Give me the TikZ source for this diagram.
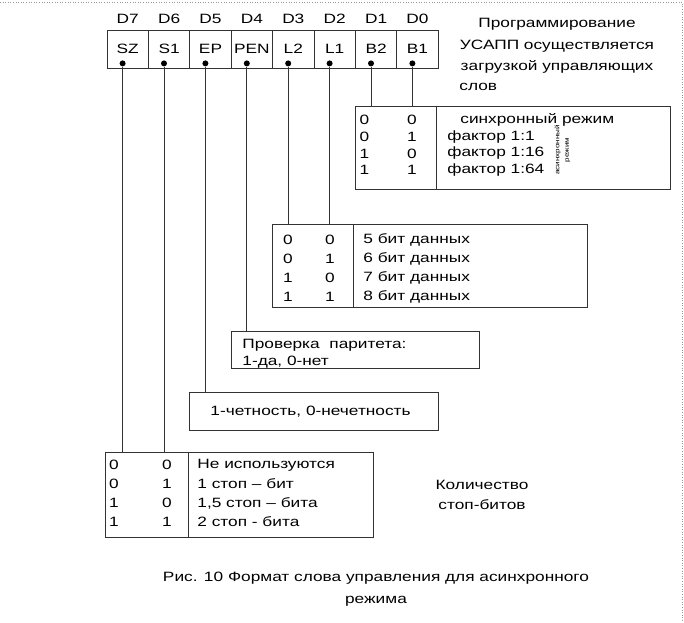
\documentclass[tikz,border=0pt]{standalone}
\usepackage{fontspec}
\setmainfont{Liberation Sans}[FakeStretch=1.28]
\begin{document}
\begin{tikzpicture}[x=1pt,y=-1pt,line width=0.8pt,draw=black!80,
	font=\fontsize{13.5}{15}\selectfont,
	regcell/.style={draw,minimum width=41.4pt,minimum height=38pt,inner sep=0pt},
	tbox/.style={draw,inner sep=0pt},
	txt/.style={inner sep=0pt,anchor=west},
	bit/.style={inner sep=0pt},
	pin/.style={circle,fill=black,inner sep=0pt,minimum size=6pt}]
	\useasboundingbox (0,0) rectangle (684,622);
	\draw[black!40,dotted,line width=0.6pt] (0,2) -- (682,2) -- (682,622);
	% control word register
	\foreach \f/\d [count=\i from 0] in {SZ/D7,S1/D6,EP/D5,PEN/D4,L2/D3,L1/D2,B2/D1,B1/D0}{
		\node (\f) at ({127.7+41.4*\i},49)	[regcell]	{\f};
		\node (lbl\f) at ({127.7+41.4*\i},19)	{\d};
		\node (p\f) at ([shift={(16,-5)}]\f.south west)	[pin]	{};
	}
	\node (prog) at (557,46)	[align=center,font=\fontsize{13.5}{21.3}\selectfont]	{Программирование\\УСАПП осуществляется\\загрузкой управляющих};
	\node (slov) at (459,87)	[txt]	{слов};
	% B2 B1
	\node (btab) at (512.5,147.5)	[tbox,minimum width=315pt,minimum height=83pt]	{};
	\draw ([xshift=82pt]btab.north west) -- ([xshift=82pt]btab.south west);
	\foreach \a/\b/\t [count=\r from 0] in {0/0/{\hspace{13pt}синхронный режим},0/1/{фактор 1:1},1/0/{фактор 1:16},1/1/{фактор 1:64}}{
		\node (bA\r) at (364.5,{120+16.7*\r})	[bit]	{\a};
		\node (bB\r) at (412,{120+16.7*\r})	[bit]	{\b};
		\node (bT\r) at (447,{120+16.7*\r})	[txt]	{\t};
	}
	\node (async) at (562.5,150)	[rotate=90,align=center,font=\fontsize{6.3}{9.5}\selectfont]	{асинхронный\\режим};
	% L2 L1
	\node (dtab) at (429.5,265.5)	[tbox,minimum width=315pt,minimum height=83pt]	{};
	\draw ([xshift=82pt]dtab.north west) -- ([xshift=82pt]dtab.south west);
	\foreach \a/\b/\n [count=\r from 0] in {0/0/5,0/1/6,1/0/7,1/1/8}{
		\node (dA\r) at (288,{240+19*\r})	[bit]	{\a};
		\node (dB\r) at (330,{240+19*\r})	[bit]	{\b};
		\node (dT\r) at (363,{240+19*\r})	[txt]	{\n{} бит данных};
	}
	% PEN
	\node (parbox) at (355,349.5)	[tbox,minimum width=248pt,minimum height=37pt]	{};
	\node (par1) at (242,345)	[txt]	{Проверка\ \ паритета:};
	\node (par2) at (242,362)	[txt]	{1-да, 0-нет};
	% EP
	\node (epbox) at (313.5,411)	[tbox,minimum width=249pt,minimum height=38pt]	{};
	\node (eptxt) at (210,412)	[txt]	{1-четность, 0-нечетность};
	% SZ S1
	\node (stab) at (239,494.5)	[tbox,minimum width=268pt,minimum height=85pt]	{};
	\draw ([xshift=84pt]stab.north west) -- ([xshift=84pt]stab.south west);
	\foreach \a/\b/\t [count=\r from 0] in {0/0/{Не используются},0/1/{1 стоп – бит},1/0/{1,5 стоп – бита},1/1/{2 стоп - бита}}{
		\node (sA\r) at (114,{465+19*\r})	[bit]	{\a};
		\node (sB\r) at (167,{465+19*\r})	[bit]	{\b};
		\node (sT\r) at (197,{465+19*\r})	[txt]	{\t};
	}
	\node (stlbl) at (482,495)	[align=center,font=\fontsize{13.5}{20}\selectfont]	{Количество\\стоп-битов};
	\node (cap) at (376,589)	[align=center,font=\fontsize{13.5}{22}\selectfont]	{Рис. 10 Формат слова управления для асинхронного\\режима};
	% connectors
	\draw (pSZ) -- (pSZ |- stab.north);
	\draw (pS1) -- (pS1 |- stab.north);
	\draw (pEP) -- (pEP |- epbox.north);
	\draw (pPEN) -- (pPEN |- parbox.north);
	\draw (pL2) -- (pL2 |- dtab.north);
	\draw (pL1) -- (pL1 |- dtab.north);
	\draw (pB2) -- (pB2 |- btab.north);
	\draw (pB1) -- (pB1 |- btab.north);
\end{tikzpicture}
\end{document}
